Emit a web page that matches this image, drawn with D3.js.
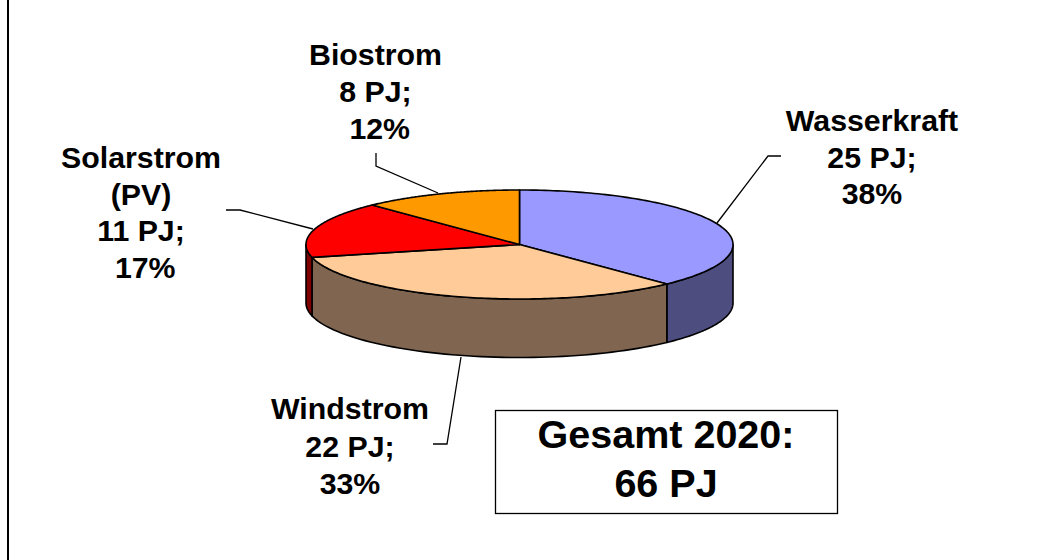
<!DOCTYPE html>
<html><head><meta charset="utf-8">
<script src="https://cdn.jsdelivr.net/npm/d3@7/dist/d3.min.js"></script>
<style>html,body{margin:0;background:#fff}svg{display:block}text{font-family:"Liberation Sans",Arial,sans-serif;font-weight:bold;fill:#000}</style>
</head><body><div id="c"></div>
<script>
const categories = ["Wasserkraft","Windstrom","Solarstrom (PV)","Biostrom"];
const valuesPJ = [25,22,11,8];
const topColors = ["#9999ff","#ffcc99","#ff0000","#ff9900"];
const sideColors = ["#4d4d80","#806650","#800000","#804d00"];
const labelLines = [["Wasserkraft","25 PJ;","38%"],["Windstrom","22 PJ;","33%"],["Solarstrom","(PV)","11 PJ;","\u00a017%"],["Biostrom","8 PJ;","\u00a012%"]];
const labelAnchors = [[872,131],[350,419],[141,168],[375.5,65]];
const leaderPaths = [[[717,223],[768,156],[781,156]],[[461,357],[447,444],[433,444]],[[313,229],[240,210],[226,210]],[[438,193],[376,166],[376,153]]];
const totalLines = ["Gesamt 2020:","66 PJ"];

const W=1037,H=560,cx=519.5,cy=244.5,rx=213.5,ry=54.5,depth=58.5;
const svg=d3.select("#c").append("svg").attr("width",W).attr("height",H);
svg.append("line").attr("x1",8).attr("x2",8).attr("y1",0).attr("y2",H).attr("stroke","#000").attr("stroke-width",2);

const arcs=d3.pie().sort(null)(valuesPJ);
const sx=d3.scaleLinear().domain([-1,1]).range([cx-rx,cx+rx]);
const sy=d3.scaleLinear().domain([-1,1]).range([cy-ry,cy+ry]);
const pt=(a,dy=0)=>[sx(Math.sin(a)),sy(-Math.cos(a))+dy];
const g=svg.append("g").attr("stroke","#000").attr("stroke-width",1.6).attr("stroke-linejoin","round");

function sidePath(a0,a1){
  const s=Math.max(a0,Math.PI/2),e=Math.min(a1,Math.PI*1.5);
  if(e<=s) return null;
  const n=60,top=d3.range(n+1).map(i=>pt(s+(e-s)*i/n)),bot=top.map(p=>[p[0],p[1]+depth]).reverse();
  return d3.line()(top.concat(bot))+"Z";
}
function topPath(a0,a1){
  const n=120,rim=d3.range(n+1).map(i=>pt(a0+(a1-a0)*i/n));
  return d3.line()([[cx,cy],...rim])+"Z";
}
arcs.forEach((d,i)=>{const p=sidePath(d.startAngle,d.endAngle);if(p)g.append("path").attr("d",p).attr("fill",sideColors[i]);});
arcs.forEach((d,i)=>g.append("path").attr("d",topPath(d.startAngle,d.endAngle)).attr("fill",topColors[i]));

leaderPaths.forEach(p=>svg.append("path").attr("d",d3.line()(p)).attr("fill","none").attr("stroke","#000").attr("stroke-width",1.3));

const lineSteps=[36.5,37.5,36.7,37];
labelLines.forEach((ls,i)=>{
  const t=svg.append("text").attr("text-anchor","middle").attr("font-size",30.3);
  ls.forEach((s,j)=>t.append("tspan").attr("x",labelAnchors[i][0]).attr("y",labelAnchors[i][1]+j*lineSteps[i]).text(s));
});
svg.append("rect").attr("x",495.5).attr("y",410.5).attr("width",342).attr("height",103).attr("fill","#fff").attr("stroke","#000").attr("stroke-width",1.3);
totalLines.forEach((s,j)=>svg.append("text").attr("x",666).attr("y",448+j*49).attr("text-anchor","middle").attr("font-size",39.5).text(s));
</script></body></html>
